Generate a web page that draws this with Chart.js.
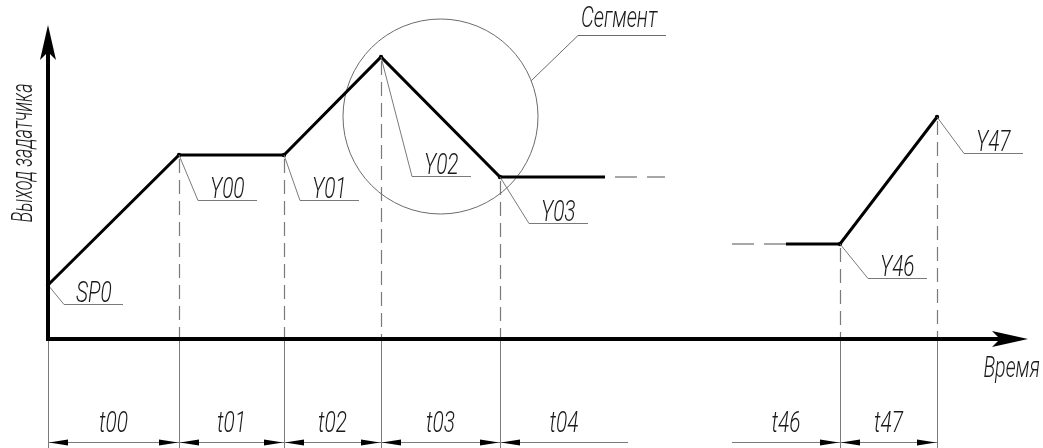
<!DOCTYPE html>
<html><head><meta charset="utf-8">
<script src="https://cdn.jsdelivr.net/npm/chart.js@4/dist/chart.umd.min.js"></script>
<style>html,body{margin:0;padding:0;background:#fff;overflow:hidden}canvas{display:block}</style>
</head><body>
<canvas id="c" width="1043" height="448"></canvas>
<script>
// ---------------- data ----------------
const pointLabels = ['SP0', 'Y00', 'Y01', 'Y02', 'Y03'];
const profileX = [0, 13.1, 23.6, 33.3, 45.2, 55.7];
const profileY = [5.2, 18.2, 18.2, 28.0, 16.0, 16.0];
const tailLabels = ['Y46', 'Y47'];
const tailX = [73.8, 79.2, 88.9];
const tailY = [9.3, 9.3, 22.0];
const contX = [56.7, 61.7];
const contY = [16.0, 16.0];
const leadX = [68.4, 73.8];
const leadY = [9.3, 9.3];
const durationLabels = ['t00', 't01', 't02', 't03', 't04', 't46', 't47'];
const durationFrom = [0, 13.1, 23.6, 33.3, 45.2, 68.4, 79.2];
const durationTo = [13.1, 23.6, 33.3, 45.2, 58.0, 79.2, 88.9];
const boundaryTimes = [0, 13.1, 23.6, 33.3, 45.2, 79.2, 88.9];
const segmentCenter = [39.25, 22.05];
const segmentRadius = 9.75;
const axisTitleX = 'Время';
const axisTitleY = 'Выход задатчика';
const segmentTitle = 'Сегмент';

// ---------------- layout / style ----------------
const FONT = (s) => `italic 300 ${s}px Roboto, "Liberation Sans", sans-serif`;
const leaderOffsets = {SP0:[16,19], Y00:[19,45], Y01:[16,45], Y02:[31,119], Y03:[29,46], Y46:[28,34], Y47:[27,36]};
const dimArrows = {t04:[true,false], t46:[false,true]};
const DIM_Y = 442, DIM_TEXT_Y = 432;
const THIN = '#7a7a7a';

function gText(ctx, str, x, y, size, align, sx) {
  ctx.save();
  ctx.translate(x, y);
  ctx.scale(sx || 0.72, 1);
  ctx.font = FONT(size);
  ctx.fillStyle = '#1a1a1a';
  ctx.textAlign = align;
  ctx.textBaseline = 'alphabetic';
  ctx.fillText(str, 0, 0);
  ctx.restore();
}
function arrowHead(ctx, x, y, dir) {
  ctx.beginPath();
  ctx.moveTo(x, y);
  ctx.lineTo(x - dir * 19, y - 3);
  ctx.lineTo(x - dir * 19, y + 3);
  ctx.closePath();
  ctx.fillStyle = '#000';
  ctx.fill();
}

const drawing = {
  id: 'drawing',
  beforeDatasetsDraw(chart) {
    const ctx = chart.ctx, xs = chart.scales.x, ys = chart.scales.y;
    const y0 = ys.getPixelForValue(0);
    ctx.save();
    ctx.strokeStyle = THIN; ctx.lineWidth = 1.2; ctx.setLineDash([14, 7]);
    const verts = [];
    for (let i = 1; i <= 4; i++) verts.push([profileX[i], profileY[i]]);
    verts.push([tailX[1], tailY[1]]); verts.push([tailX[2], tailY[2]]);
    verts.forEach(([x, y]) => {
      const p = Math.round(xs.getPixelForValue(x)) + 0.5;
      ctx.beginPath(); ctx.moveTo(p, ys.getPixelForValue(y) + 4); ctx.lineTo(p, y0); ctx.stroke();
    });
    ctx.setLineDash([]);
    const cx = xs.getPixelForValue(segmentCenter[0]), cy = ys.getPixelForValue(segmentCenter[1]);
    const r = xs.getPixelForValue(segmentRadius) - xs.getPixelForValue(0);
    ctx.strokeStyle = '#6a6a6a'; ctx.lineWidth = 1;
    ctx.beginPath(); ctx.arc(cx, cy, r, 0, Math.PI * 2); ctx.stroke();
    const a = -21.5 * Math.PI / 180;
    ctx.beginPath();
    ctx.moveTo(cx + r * Math.cos(a), cy + r * Math.sin(a));
    ctx.lineTo(578, 35.5); ctx.lineTo(666, 35.5); ctx.stroke();
    ctx.restore();
  },
  afterDatasetsDraw(chart) {
    const ctx = chart.ctx, xs = chart.scales.x, ys = chart.scales.y;
    const x0 = xs.getPixelForValue(0), y0 = ys.getPixelForValue(0);
    ctx.save();
    const labelled = [];
    pointLabels.forEach((l, i) => labelled.push([l, profileX[i], profileY[i]]));
    tailLabels.forEach((l, i) => labelled.push([l, tailX[i + 1], tailY[i + 1]]));
    labelled.forEach(([l, x, y]) => {
      const px = xs.getPixelForValue(x), py = ys.getPixelForValue(y);
      const [dx, dy] = leaderOffsets[l];
      const ex = px + dx, ey = Math.round(py + dy) + 0.5;
      ctx.strokeStyle = THIN; ctx.lineWidth = 1;
      ctx.beginPath(); ctx.moveTo(px, py); ctx.lineTo(ex, ey); ctx.lineTo(ex + 59, ey); ctx.stroke();
      gText(ctx, l, ex + 12, ey - 3, 29, 'left');
    });
    ctx.strokeStyle = THIN; ctx.lineWidth = 1;
    boundaryTimes.forEach(b => {
      const p = Math.round(xs.getPixelForValue(b)) + 0.5;
      ctx.beginPath(); ctx.moveTo(p, y0); ctx.lineTo(p, 448); ctx.stroke();
    });
    durationLabels.forEach((l, i) => {
      const a = xs.getPixelForValue(durationFrom[i]), b = xs.getPixelForValue(durationTo[i]);
      const arr = dimArrows[l] || [true, true];
      ctx.strokeStyle = THIN; ctx.lineWidth = 1;
      ctx.beginPath(); ctx.moveTo(a, DIM_Y + 0.5); ctx.lineTo(b, DIM_Y + 0.5); ctx.stroke();
      if (arr[0]) arrowHead(ctx, a + 1, DIM_Y + 0.5, -1);
      if (arr[1]) arrowHead(ctx, b - 1, DIM_Y + 0.5, 1);
      gText(ctx, l, (a + b) / 2, DIM_TEXT_Y, 29, 'center');
    });
    ctx.strokeStyle = '#000'; ctx.lineWidth = 4; ctx.lineCap = 'butt';
    ctx.beginPath(); ctx.moveTo(x0, 52); ctx.lineTo(x0, y0 + 2); ctx.lineTo(1000, y0 + 2); ctx.stroke();
    ctx.fillStyle = '#000';
    ctx.beginPath(); ctx.moveTo(x0, 25); ctx.lineTo(x0 - 8, 60); ctx.lineTo(x0, 52); ctx.lineTo(x0 + 8, 60); ctx.closePath(); ctx.fill();
    ctx.beginPath(); ctx.moveTo(1028, y0 + 2); ctx.lineTo(992, y0 - 6); ctx.lineTo(1000, y0 + 2); ctx.lineTo(992, y0 + 10); ctx.closePath(); ctx.fill();
    gText(ctx, axisTitleX, 1040, 377, 29, 'right', 0.68);
    gText(ctx, segmentTitle, 581, 27, 29, 'left', 0.7);
    ctx.save(); ctx.translate(32, 153); ctx.rotate(-Math.PI / 2);
    gText(ctx, axisTitleY, 0, 0, 30, 'center', 0.6);
    ctx.restore();
    ctx.restore();
  }
};

const pts = (xa, ya) => xa.map((x, i) => ({x, y: ya[i]}));
new Chart(document.getElementById('c'), {
  type: 'scatter',
  data: {datasets: [
    {data: pts(profileX, profileY), showLine: true, borderColor: '#000', borderWidth: 3,
     pointRadius: (c) => c.dataIndex < pointLabels.length ? 2.2 : 0, pointBackgroundColor: '#000', pointBorderWidth: 0, clip: false},
    {data: pts(tailX, tailY), showLine: true, borderColor: '#000', borderWidth: 3,
     pointRadius: (c) => c.dataIndex > 0 ? 2.2 : 0, pointBackgroundColor: '#000', pointBorderWidth: 0, clip: false},
    {data: pts(contX, contY), showLine: true, borderColor: '#8a8a8a', borderWidth: 1.5, borderDash: [22, 10], pointRadius: 0, clip: false},
    {data: pts(leadX, leadY), showLine: true, borderColor: '#8a8a8a', borderWidth: 1.5, borderDash: [22, 10], pointRadius: 0, clip: false}
  ]},
  options: {
    responsive: false, devicePixelRatio: 1, animation: false,
    layout: {padding: {left: 48, right: 15, top: 17, bottom: 111}},
    scales: {
      x: {type: 'linear', min: 0, max: 98, display: false},
      y: {type: 'linear', min: 0, max: 32, display: false}
    },
    plugins: {legend: {display: false}, tooltip: {enabled: false}}
  },
  plugins: [drawing]
});
</script>
</body></html>
